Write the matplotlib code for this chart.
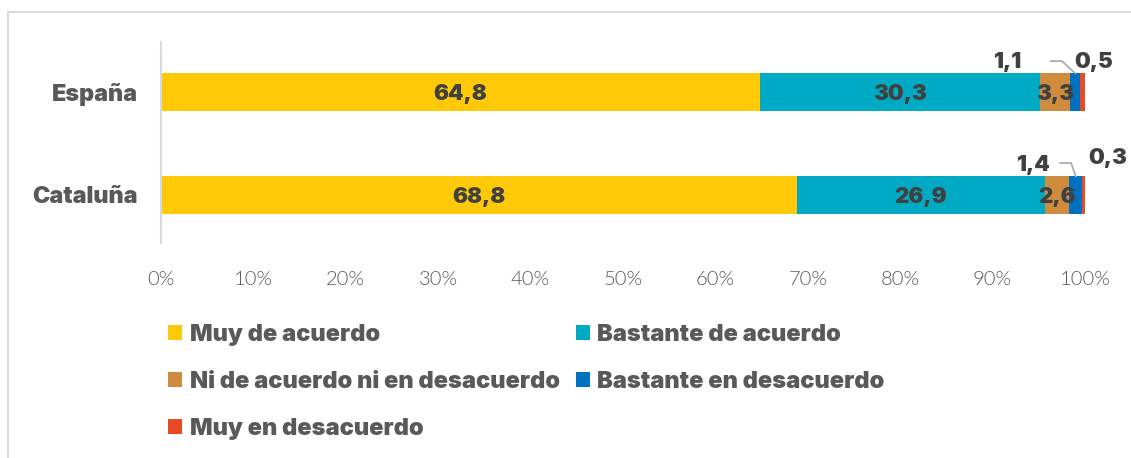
import matplotlib
matplotlib.use("Agg")
import matplotlib.pyplot as plt
from matplotlib.lines import Line2D
from matplotlib.patches import Patch

# Data
regions = ["Cataluña", "España"]
series = ["Muy de acuerdo", "Bastante de acuerdo", "Ni de acuerdo ni en desacuerdo",
          "Bastante en desacuerdo", "Muy en desacuerdo"]
cataluna = [68.8, 26.9, 2.6, 1.4, 0.3]
espana = [64.8, 30.3, 3.3, 1.1, 0.5]
colors = ["#FFC907", "#00AAC4", "#D08C3E", "#0070C0", "#E84A24"]
xticks = [0, 10, 20, 30, 40, 50, 60, 70, 80, 90, 100]
xtick_labels = [f"{t}%" for t in xticks]

heavy = ["Inter", "DejaVu Sans"]
light = ["Lato", "DejaVu Sans"]

TXT = "#595959"
LBL = "#404040"

fig = plt.figure(figsize=(11.31, 4.58), dpi=100)
fig.patch.set_facecolor("white")

# outer frame (top and left edges)
fig.add_artist(Line2D([8 / 1131, 1.0], [1 - 12 / 458, 1 - 12 / 458], color="#D9D9D9", lw=1.5,
                      transform=fig.transFigure))
fig.add_artist(Line2D([8 / 1131, 8 / 1131], [0, 1 - 12 / 458], color="#D9D9D9", lw=1.5,
                      transform=fig.transFigure))

ax = fig.add_axes([161 / 1131, 1 - 243 / 458, 924 / 1131, 201 / 458])
values = [cataluna, espana]
ypos = [0, 1]
bar_h = 0.36
for j, name in enumerate(series):
    widths = [v[j] for v in values]
    lefts = [sum(v[:j]) for v in values]
    ax.barh(ypos, widths, left=lefts, height=bar_h, color=colors[j], label=name, linewidth=0)

ax.set_xlim(0, 100)
ax.set_ylim(-0.466, 1.485)
ax.set_yticks(ypos)
ax.set_yticklabels(regions, family=heavy, fontweight=900, fontsize=16.8, color=TXT)
ax.set_xticks(xticks)
ax.set_xticklabels(xtick_labels, family=light, fontweight=300, fontsize=14.5, color=TXT)
ax.tick_params(axis="both", length=0)
ax.tick_params(axis="x", pad=20)
ax.tick_params(axis="y", pad=17)
for s in ["top", "right", "bottom"]:
    ax.spines[s].set_visible(False)
ax.spines["left"].set_color("#D9D9D9")
ax.spines["left"].set_linewidth(1.5)

lab = dict(family=heavy, fontweight=900, fontsize=16, color=LBL, ha="center", va="center")


def fmt(x):
    return f"{x:.1f}".replace(".", ",")


# labels inside the bars for the three larger segments
for y, v in zip(ypos, values):
    for j in range(3):
        cx = sum(v[:j]) + v[j] / 2
        ax.text(cx, y - 0.02, fmt(v[j]), **lab)

# small segments: labels above the bars with leader lines
esp_blue = sum(espana[:3]) + espana[3] / 2
cat_blue = sum(cataluna[:3]) + cataluna[3] / 2
ax.text(91.6, 1.29, fmt(espana[3]), clip_on=False, **lab)
ax.text(100.9, 1.29, fmt(espana[4]), clip_on=False, **lab)
ax.plot([96.3, 97.5, esp_blue], [1.30, 1.30, 1 + bar_h / 2], color="#A6A6A6", lw=1.2,
        clip_on=False)
ax.text(94.4, 0.29, fmt(cataluna[3]), clip_on=False, **lab)
ax.text(102.5, 0.36, fmt(cataluna[4]), clip_on=False, **lab)
ax.plot([97.3, 98.5, cat_blue], [0.31, 0.31, bar_h / 2], color="#A6A6A6", lw=1.2,
        clip_on=False)

# legend laid out row by row in two columns
handles = [Patch(facecolor=c, edgecolor="none") for c in colors]
order = [0, 2, 4, 1, 3]
leg = fig.legend([handles[i] for i in order], [series[i] for i in order], ncol=2,
                 loc="upper left", bbox_to_anchor=(147 / 1131, 1 - 303 / 458),
                 frameon=False, handlelength=0.6, handleheight=0.6, handletextpad=0.3,
                 columnspacing=0.7, labelspacing=1.05,
                 prop=dict(family=heavy, weight=900, size=17))
for t in leg.get_texts():
    t.set_color(TXT)

fig.savefig("out.png", dpi=100, facecolor="white")
